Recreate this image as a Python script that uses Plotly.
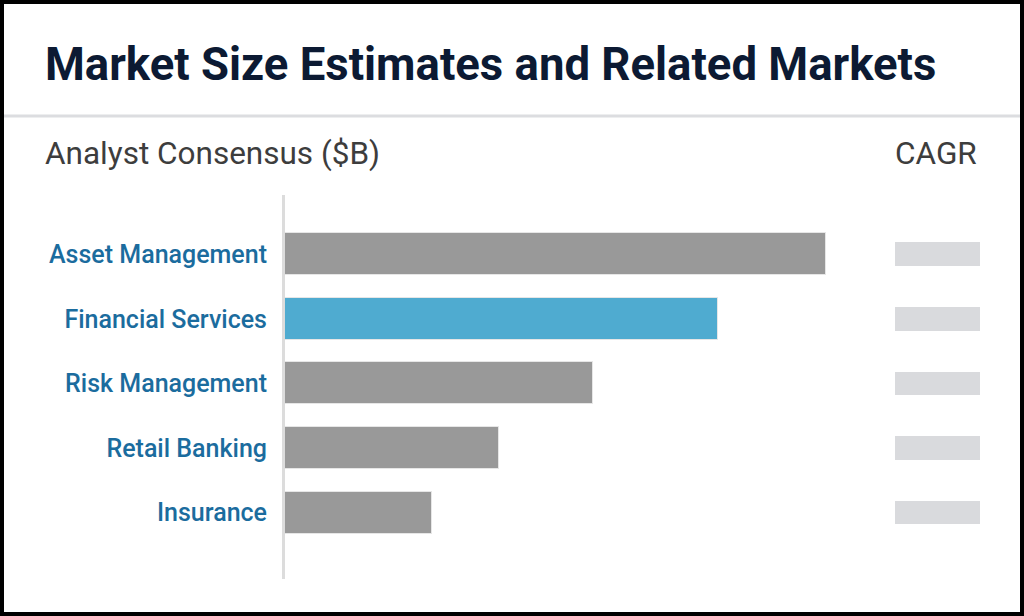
import plotly.graph_objects as go

W, H = 1024, 616

categories = ["Asset Management", "Financial Services", "Risk Management", "Retail Banking", "Insurance"]
market_size = [54.1, 43.3, 30.8, 21.4, 14.7]
bar_colors = ["#999999", "#4fabd0", "#999999", "#999999", "#999999"]
cagr_placeholder = [1, 1, 1, 1, 1]

title_text = "Market Size Estimates and Related Markets"
subtitle_text = "Analyst Consensus ($B)"
cagr_text = "CAGR"

FONT = "Roboto"

def px_x(p):
    return p / W

def px_y(p):
    return 1 - p / H

fig = go.Figure()
fig.add_trace(go.Bar(
    y=categories, x=market_size, orientation="h",
    marker=dict(color=bar_colors, line=dict(width=1, color="#e6e6e6")),
    width=0.65, xaxis="x", yaxis="y", hoverinfo="x+y",
))
fig.add_trace(go.Bar(
    y=categories, x=cagr_placeholder, orientation="h",
    marker=dict(color="#d9dadd", line=dict(width=0)),
    width=0.37, xaxis="x2", yaxis="y", hoverinfo="skip",
))

fig.update_layout(
    width=W, height=H,
    margin=dict(l=0, r=0, t=0, b=0),
    paper_bgcolor="white", plot_bgcolor="white",
    showlegend=False,
    bargap=0,
    xaxis=dict(domain=[px_x(285), px_x(865)], range=[0, 58], visible=False, fixedrange=True),
    xaxis2=dict(domain=[px_x(895), px_x(980)], range=[0, 1], visible=False, anchor="y", fixedrange=True),
    yaxis=dict(
        domain=[px_y(579), px_y(195)],
        range=[5.03, -0.92],
        showline=True, linecolor="#dcdcdc", linewidth=3,
        showgrid=False, zeroline=False, ticks="",
        ticklabelstandoff=10,
        tickfont=dict(family=FONT, size=25, color="#1b6c9e", weight=500),
        fixedrange=True,
    ),
    shapes=[
        dict(type="line", xref="paper", yref="paper",
             x0=px_x(4), x1=px_x(1020), y0=px_y(116), y1=px_y(116),
             line=dict(color="#dcdde0", width=3)),
        dict(type="rect", xref="paper", yref="paper",
             x0=px_x(2), x1=px_x(1022), y0=px_y(2), y1=px_y(614),
             line=dict(color="black", width=4), fillcolor="rgba(0,0,0,0)"),
    ],
    annotations=[
        dict(text=title_text, xref="paper", yref="paper", x=px_x(43), y=px_y(64),
             xanchor="left", yanchor="middle", showarrow=False,
             font=dict(family=FONT, size=45.5, color="#0c1a33", weight="bold")),
        dict(text=subtitle_text, xref="paper", yref="paper", x=px_x(43), y=px_y(153),
             xanchor="left", yanchor="middle", showarrow=False,
             font=dict(family=FONT, size=31.5, color="#3d3d3d")),
        dict(text=cagr_text, xref="paper", yref="paper", x=px_x(979), y=px_y(153),
             xanchor="right", yanchor="middle", showarrow=False,
             font=dict(family=FONT, size=31.5, color="#3d3d3d")),
    ],
)

fig.write_html("out.html", config={"displayModeBar": False},
               post_script="document.body.style.margin='0';document.body.style.overflow='hidden';")
